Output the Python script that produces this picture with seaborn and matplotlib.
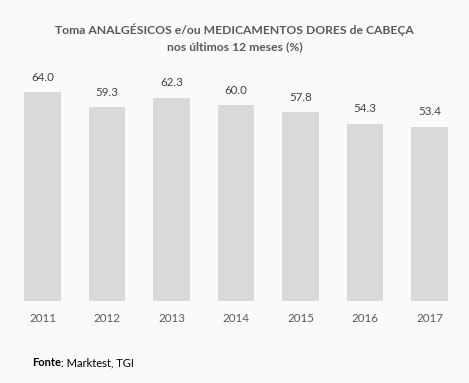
import matplotlib
matplotlib.use("Agg")
import matplotlib.pyplot as plt
import seaborn as sns
import pandas as pd

years = ["2011", "2012", "2013", "2014", "2015", "2016", "2017"]
values = [64.0, 59.3, 62.3, 60.0, 57.8, 54.3, 53.4]

df = pd.DataFrame({"year": years, "value": values})

sns.set_theme(style="white")
plt.rcParams["font.family"] = ["Lato", "DejaVu Sans"]

bg = "#fafafa"
fig = plt.figure(figsize=(4.69, 3.83), dpi=100, facecolor=bg)
ax = fig.add_axes([0.02186, 0.2141, 0.9627, 0.597], facecolor=bg)

sns.barplot(data=df, x="year", y="value", color="#d9d9d9", width=0.57,
            saturation=1, ax=ax, edgecolor="none")
ax.set_xlim(-0.5, 6.5)
ax.set_ylim(0, 70)
for s in ax.spines.values():
    s.set_visible(False)
ax.set_yticks([])
ax.set_xlabel("")
ax.set_ylabel("")
ax.tick_params(axis="x", length=0, pad=9, labelsize=8.3, labelcolor="#595959")

for i, v in enumerate(values):
    ax.text(i, v + 2.8, f"{v:.1f}", ha="center", va="bottom", fontsize=8.3, color="#404040")

fig.text(0.5, 1 - 30/383, "Toma ANALGÉSICOS e/ou MEDICAMENTOS DORES de CABEÇA",
         ha="center", va="center", fontsize=8.7, fontweight="bold", color="#595959")
fig.text(0.5, 1 - 47/383, "nos últimos 12 meses (%)",
         ha="center", va="center", fontsize=8.7, fontweight="bold", color="#595959")

t = fig.text(32/469, 1 - 363/383, "Fonte", ha="left", va="center", fontsize=8,
             fontweight="bold", color="#000000")
fig.canvas.draw()
bb = t.get_window_extent()
fig.text(bb.x1/469, 1 - 363/383, ": Marktest, TGI", ha="left", va="center",
         fontsize=8, color="#000000")

fig.savefig("out.png", dpi=100, facecolor=bg)
